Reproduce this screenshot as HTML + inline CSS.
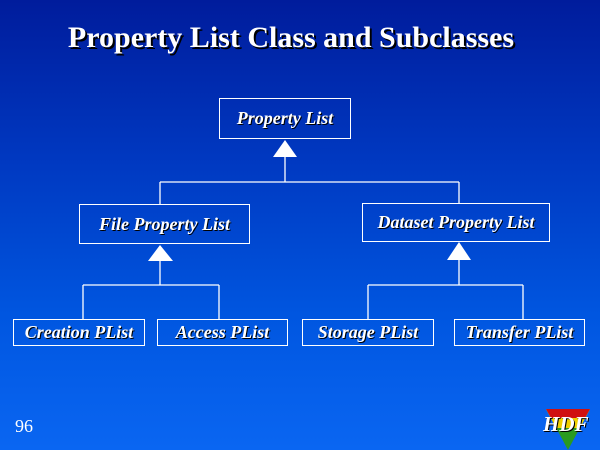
<!DOCTYPE html>
<html><head><style>
body{margin:0}
#c{position:relative;width:600px;height:450px;overflow:hidden;background:linear-gradient(#001c9c 0%,#0038c0 35%,#0056e0 70%,#0a66f2 100%);font-family:"Liberation Serif",serif;color:#fff}
.t{position:absolute;left:0;width:582px;top:21px;text-align:center;font-weight:bold;font-size:30px;text-shadow:2px 2px 0 #000}
.b{position:absolute;border:1.5px solid #fff;box-sizing:border-box;display:flex;align-items:center;justify-content:center;font-style:italic;font-weight:bold;font-size:18px;text-shadow:1px 1px 0 #000;white-space:nowrap}
svg{position:absolute;left:0;top:0}
</style></head><body><div id="c">
<div class="t">Property List Class and Subclasses</div>
<svg width="600" height="450">
<g stroke="#fff" stroke-width="1.3" fill="none">
<path d="M285 157V182M160 182H459M160 182V204M459 182V203"/>
<path d="M160 261V285M83 285H219M83 285V319M219 285V319"/>
<path d="M459 260V285M368 285H523M368 285V319M523 285V319"/>
</g>
<g fill="#fff">
<polygon points="285,140 273,157 297,157"/>
<polygon points="160,245 148,261 173,261"/>
<polygon points="459,242 447,260 471,260"/>
</g>
<polygon points="546,409 590,409 568,450" fill="#2a9a20"/>
<polygon points="546,409 590,409 580,428 556,428" fill="#f0d000"/>
<polygon points="546,409 590,409 585,418 551,418" fill="#d01010"/>
</svg>
<div class="b" style="left:219px;top:98px;width:132px;height:41px">Property List</div>
<div class="b" style="left:79px;top:204px;width:171px;height:40px">File Property List</div>
<div class="b" style="left:362px;top:203px;width:188px;height:39px">Dataset Property List</div>
<div class="b" style="left:13px;top:319px;width:132px;height:27px">Creation PList</div>
<div class="b" style="left:157px;top:319px;width:131px;height:27px">Access PList</div>
<div class="b" style="left:302px;top:319px;width:132px;height:27px">Storage PList</div>
<div class="b" style="left:454px;top:319px;width:131px;height:27px">Transfer PList</div>
<div style="position:absolute;left:15px;top:416px;font-size:18px">96</div>
<div style="position:absolute;left:543px;top:412px;font-size:21px;font-style:italic;font-weight:bold;text-shadow:1px 1px 0 #000">HDF</div>
</div></body></html>
